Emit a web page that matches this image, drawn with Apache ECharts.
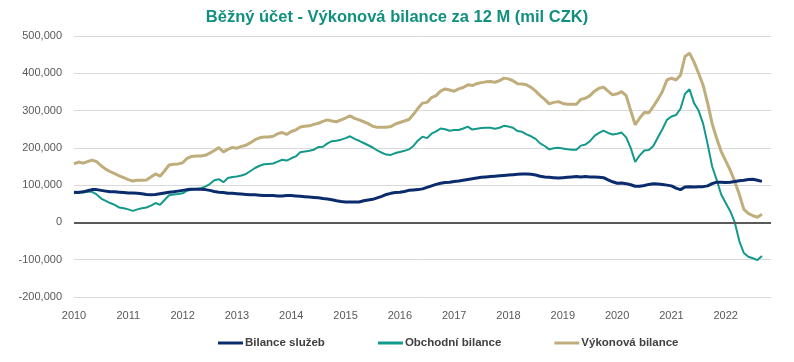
<!DOCTYPE html>
<html><head><meta charset="utf-8">
<script src="https://cdn.jsdelivr.net/npm/echarts@6/dist/echarts.min.js"></script>
<style>html,body{margin:0;padding:0;background:#fff}#c{width:794px;height:362px}</style>
</head><body><div id="c"></div>
<script>
// Monthly categories Jan 2010 .. Nov 2022 (data through Sep 2022)
const years = [2010,2011,2012,2013,2014,2015,2016,2017,2018,2019,2020,2021,2022];
const categories = [];
years.forEach(y => { for (let m = 1; m <= 12; m++) { if (y === 2022 && m > 11) break; categories.push(y + '-' + (m < 10 ? '0' + m : m)); } });

// values in thousands of CZK (mil CZK / 1000)
const sluzby = [
 81,80,82,85,88,88,86,84,82,82,81,80,
 79,79,78,77,75,74,75,77,79,81,82,84,
 86,88,89,89,89,88,86,83,81,80,78,78,
 77,76,75,74,74,73,72,72,72,71,71,72,
 72,71,70,69,68,67,66,64,63,61,58,56,
 55,55,55,55,58,60,62,66,70,75,78,80,
 81,83,86,87,88,90,94,98,102,105,107,108,
 110,111,113,115,117,119,121,122,123,124,125,126,
 127,128,129,130,130,129,127,124,122,121,120,119,
 120,121,122,123,122,123,122,122,121,120,114,109,
 105,106,104,101,97,97,99,102,104,103,102,100,
 98,92,88,95,96,95,96,96,98,104,108,108,
 107,108,110,112,113,115,116,113,110
];
const obchodni = [
 78,82,80,82,82,75,64,58,52,47,40,38,
 35,31,35,38,40,45,52,47,60,73,75,76,
 78,85,88,90,92,96,103,113,116,108,119,122,
 123,126,130,138,146,152,156,157,158,163,168,166,
 172,177,188,190,192,195,202,203,212,218,219,222,
 226,231,224,219,213,207,201,193,187,182,181,186,
 189,192,196,205,220,230,226,238,244,252,250,246,
 248,248,252,257,249,251,253,254,254,251,254,259,
 257,254,245,243,236,231,224,212,205,196,199,200,
 198,196,195,195,206,209,218,232,240,246,240,236,
 238,241,228,200,162,180,193,194,205,228,250,275,
 284,288,305,345,357,320,300,265,210,150,114,75,
 52,30,0,-50,-82,-92,-96,-101,-90
];
const vykonova = [
 157,162,159,163,167,163,152,143,136,131,125,120,
 115,111,113,113,114,122,130,124,138,154,156,157,
 160,172,177,178,178,180,186,193,201,189,196,201,
 199,204,207,214,222,227,229,229,231,238,241,236,
 244,248,256,258,259,263,266,271,275,272,270,275,
 280,286,279,275,270,265,258,255,255,255,257,264,
 268,272,276,290,306,320,322,335,340,352,358,355,
 352,358,362,369,367,372,375,377,378,376,380,387,
 385,380,372,371,369,362,352,340,330,318,322,324,
 319,317,317,317,330,333,340,352,360,363,352,342,
 345,351,340,300,262,280,295,294,311,330,351,382,
 387,382,395,445,454,430,400,368,320,265,225,190,
 165,140,110,75,35,24,18,14,22
];
const toUnits = a => a.map(v => v * 1000);

const FONT = '"Liberation Sans", Arial, sans-serif';
const chart = echarts.init(document.getElementById('c'));
chart.setOption({
  animation: false,
  title: {
    text: 'Běžný účet - Výkonová bilance za 12 M (mil CZK)',
    left: 'center', top: 4,
    textStyle: { color: '#11907f', fontSize: 16.5, fontWeight: 'bold', fontFamily: FONT }
  },
  grid: { left: 74, right: 23, top: 36, bottom: 65, containLabel: false },
  legend: {
    bottom: 8, left: 213, itemGap: 53, itemWidth: 25, itemHeight: 3,
    icon: 'rect',
    textStyle: { color: '#404040', fontSize: 11.5, fontWeight: 'bold', fontFamily: FONT, padding: [0, 0, 0, -3] },
    data: ['Bilance služeb', 'Obchodní bilance', 'Výkonová bilance']
  },
  xAxis: {
    type: 'category', data: categories, boundaryGap: false,
    axisLine: { show: false, onZero: false }, axisTick: { show: false },
    splitLine: { show: false },
    axisLabel: {
      interval: (i) => i % 12 === 0, margin: 13,
      formatter: (v) => v.slice(0, 4),
      color: '#595959', fontSize: 11, fontFamily: FONT
    }
  },
  yAxis: {
    type: 'value', min: -200000, max: 500000, interval: 100000,
    axisLine: { show: false }, axisTick: { show: false },
    splitLine: { lineStyle: { color: '#d9d9d9', width: 1 } },
    axisLabel: {
      margin: 12, color: '#595959', fontSize: 11, fontFamily: FONT,
      formatter: (v) => v.toLocaleString('en-US')
    }
  },
  series: [
    {
      name: 'Bilance služeb', type: 'line', data: toUnits(sluzby), symbol: 'none',
      lineStyle: { color: '#0b2c6c', width: 3 }, itemStyle: { color: '#0b2c6c' }, z: 3,
      markLine: {
        silent: true, symbol: 'none', label: { show: false },
        lineStyle: { color: '#595959', width: 2, type: 'solid' },
        data: [{ yAxis: 0 }]
      }
    },
    {
      name: 'Obchodní bilance', type: 'line', data: toUnits(obchodni), symbol: 'none',
      lineStyle: { color: '#13998a', width: 2 }, itemStyle: { color: '#13998a' }, z: 2
    },
    {
      name: 'Výkonová bilance', type: 'line', data: toUnits(vykonova), symbol: 'none',
      lineStyle: { color: '#bfae7c', width: 3 }, itemStyle: { color: '#bfae7c' }, z: 2
    }
  ]
});
</script></body></html>
